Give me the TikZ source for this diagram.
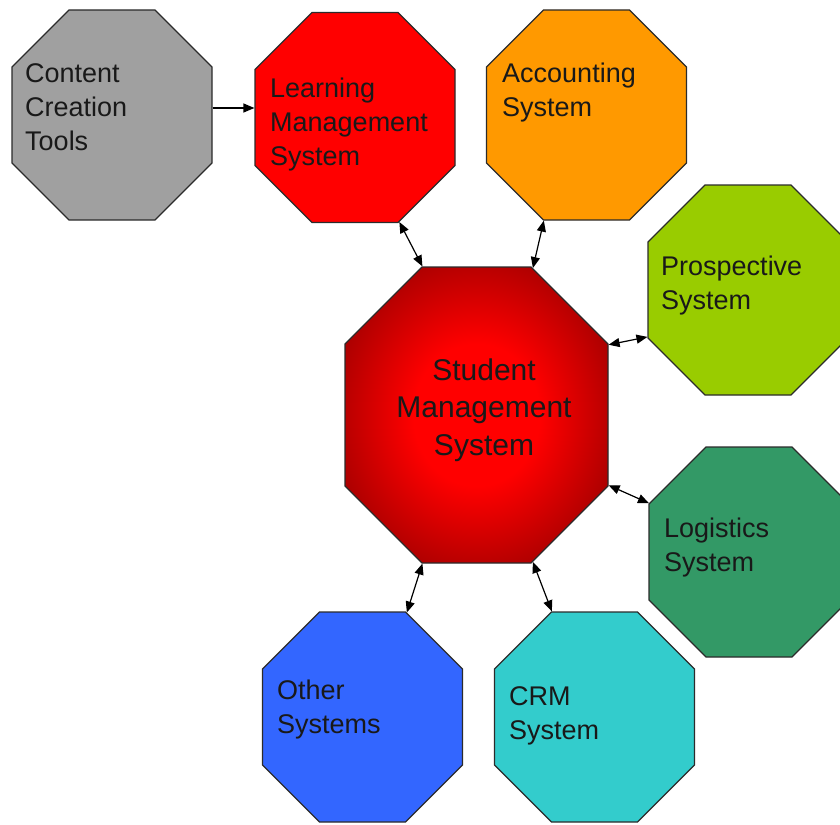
\documentclass[tikz,border=0pt]{standalone}
\usepackage{fontspec}
\setmainfont{Liberation Sans}
\usetikzlibrary{arrows.meta,shapes.misc}

\definecolor{toolgray}{HTML}{A0A0A0}
\definecolor{lmsred}{HTML}{FF0000}
\definecolor{accorange}{HTML}{FF9900}
\definecolor{progreen}{HTML}{99CC00}
\definecolor{loggreen}{HTML}{339966}
\definecolor{crmteal}{HTML}{33CCCC}
\definecolor{othblue}{HTML}{3366FF}
\definecolor{edgedark}{HTML}{2B2B2B}

\pgfdeclareradialshading{smsglow}{\pgfpoint{0bp}{0bp}}{color(0bp)=(red); color(12bp)=(red); color(36bp)=(red!50!black); color(50bp)=(red!42!black)}

\tikzset{
  octo/.style={chamfered rectangle, chamfered rectangle xsep=28.5pt, chamfered rectangle ysep=28.5pt,
    inner xsep=71.5pt, inner ysep=76.5pt, draw=edgedark, line width=1.2pt},
  lbl/.style={anchor=west, align=left, inner sep=0pt, text=black!90, font=\fontsize{27}{34}\selectfont},
  link/.style={line width=1.2pt},
  >={Triangle[length=11pt,width=9pt]}
}

\begin{document}
\begin{tikzpicture}[x=1pt, y=-1pt]
\useasboundingbox (0,0) rectangle (840,824);
\clip (0,0) rectangle (840,824);

\node[octo, fill=toolgray] (cct) at (112,115) {};
\node[octo, fill=lmsred] (lms) at (355,117.5) {};
\node[octo, fill=accorange] (acc) at (586.5,115) {};
\node[octo, fill=progreen] (pro) at (748,290) {};
\node[octo, fill=loggreen] (log) at (749,552) {};
\node[octo, fill=crmteal] (crm) at (594.5,717) {};
\node[octo, fill=othblue] (oth) at (362.5,717) {};
\node[octo, inner xsep=93pt, inner ysep=109.5pt, chamfered rectangle xsep=38.5pt,
      chamfered rectangle ysep=38.5pt, shading=smsglow] (sms) at (476.5,415) {};

\node[lbl] (cct-t) at (25,107) {Content\\Creation\\Tools};
\node[lbl] (lms-t) at (270,125) {Learning\\Management\\System};
\node[lbl] (acc-t) at (502,93) {Accounting\\System};
\node[lbl] (pro-t) at (661,286) {Prospective\\System};
\node[lbl] (log-t) at (664,548) {Logistics\\System};
\node[lbl] (crm-t) at (509,716) {CRM\\System};
\node[lbl] (oth-t) at (277,710) {Other\\Systems};
\node[lbl, anchor=center, align=center, font=\fontsize{30}{37.5}\selectfont] (sms-t) at (484,410)
     {Student\\Management\\System};

\draw[link, ->] ([yshift=7pt]cct.east) -- ([yshift=7pt]cct.east -| lms.west);
\draw[link, <->] (lms.-67.7) -- (sms.110.2);
\draw[link, <->] (acc.-112.3) -- (sms.69.8);
\draw[link, <->] (sms.28.4) -- (pro.205.6);
\draw[link, <->] (sms.-28.4) -- (log.154.4);
\draw[link, <->] (sms.-110.2) -- (oth.67.7);
\draw[link, <->] (sms.-69.8) -- (crm.112.3);
\end{tikzpicture}
\end{document}
